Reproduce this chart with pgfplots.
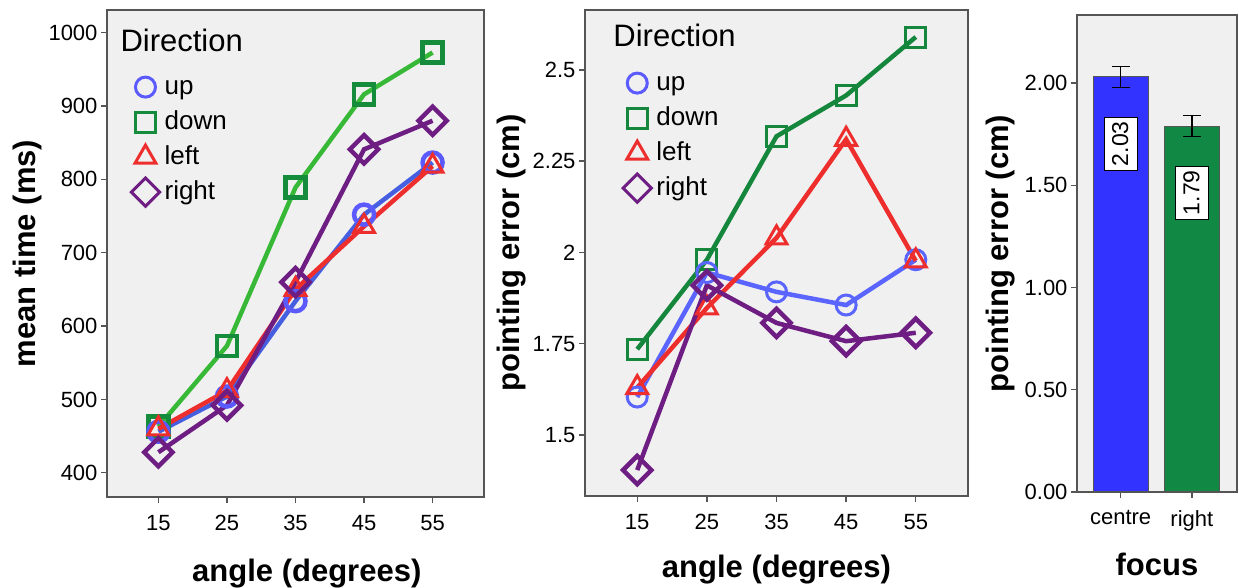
\documentclass[border=0pt]{standalone}
\usepackage{fontspec}
\setmainfont{Liberation Sans}
\usepackage{pgfplots}
\pgfplotsset{compat=1.18}
\definecolor{bg}{RGB}{240,240,240}
\definecolor{axgray}{RGB}{85,85,85}
\definecolor{upL}{RGB}{70,95,225}
\definecolor{upM}{RGB}{90,100,255}
\definecolor{upMk}{RGB}{90,90,255}
\definecolor{downL}{RGB}{55,185,55}
\definecolor{downMk}{RGB}{20,140,60}
\definecolor{downM}{RGB}{20,135,60}
\definecolor{redc}{RGB}{238,45,45}
\definecolor{purp}{RGB}{110,30,130}
\definecolor{barblue}{RGB}{51,51,255}
\definecolor{bargreen}{RGB}{17,136,68}
\pgfplotsset{
  common/.style={
    scale only axis,
    axis background/.style={fill=bg},
    axis line style={draw=axgray, line width=1.4pt},
    tick style={draw=axgray, line width=1.4pt},
    major tick length=6pt,
    tick align=outside,
    xtick pos=bottom, ytick pos=left,
    tick label style={font=\fontsize{22}{26}\selectfont},
    xticklabel style={yshift=-9pt},
    label style={font=\bfseries\fontsize{31}{36}\selectfont},
    /pgf/number format/assume math mode=true,
    /pgf/number format/1000 sep={},
  },
  ln/.style={line width=4.5pt, mark size=10pt, mark options={line width=3pt, solid}},
  lg/.style={
    legend style={draw=none, fill=none, font=\fontsize{26}{30}\selectfont,
      anchor=north west, inner sep=0pt, row sep=0pt, column sep=4pt,
      nodes={inner sep=1pt, text height=24pt, text depth=9pt}},
    legend cell align=left,
    legend image code/.code={\draw[##1] plot[only marks] coordinates {(0pt,0pt)};},
  },
  barlab/.style={
    nodes near coords={\pgfmathprintnumber[fixed,fixed zerofill,precision=2]{\pgfplotspointmeta}},
    nodes near coords style={yshift=-40pt, rotate=90, anchor=east, draw=black, fill=white, line width=0.8pt, inner xsep=4pt, inner ysep=8pt, text height=16pt, text depth=1pt, font=\fontsize{23}{26}\selectfont, text=black},
  },
  ebar/.style={
    error bars/.cd, y dir=both, y explicit,
    error bar style={black, line width=1.3pt},
    error mark options={black, line width=1.3pt, mark size=9pt, rotate=90},
  },
}
\begin{document}
\begin{tikzpicture}
\useasboundingbox (0,0) rectangle (1239pt,588pt);
% ---------- left panel ----------
\begin{axis}[common, lg, at={(107pt,91pt)}, anchor=south west,
  width=377pt, height=487pt,
  xmin=7.5, xmax=62.5, ymin=367, ymax=1031,
  xtick={15,25,35,45,55}, ytick={400,500,600,700,800,900,1000},
  xlabel={angle (degrees)}, ylabel={mean time (ms)},
  xlabel style={at={(axis description cs:0.53,-0.158)}, anchor=center},
  ylabel style={at={(axis description cs:-0.21,0.5)}, anchor=center},
  legend style={at={(axis description cs:0.064,0.878)}},
]
\addlegendimage{only marks, mark=o, mark size=10pt, line width=3pt, color=upMk}
\addlegendentry{up}
\addlegendimage{only marks, mark=square, mark size=10pt, line width=3pt, color=downMk}
\addlegendentry{down}
\addlegendimage{only marks, mark=triangle, mark size=12pt, line width=3pt, color=redc}
\addlegendentry{left}
\addlegendimage{only marks, mark=square, mark size=10pt, mark options={rotate=45}, line width=3pt, color=purp}
\addlegendentry{right}
\addplot[ln, color=downL, mark=square, mark options={draw=downMk}, forget plot] coordinates {(15,463) (25,573) (35,789) (45,916) (55,973)};
\addplot[ln, color=upL, mark=o, mark options={draw=upMk}, forget plot] coordinates {(15,456) (25,504) (35,634) (45,752) (55,823)};
\addplot[ln, color=redc, mark=triangle, mark size=12pt, forget plot] coordinates {(15,460) (25,512) (35,650) (45,736) (55,818)};
\addplot[ln, color=purp, mark=square, mark options={rotate=45}, forget plot] coordinates {(15,428) (25,492) (35,660) (45,841) (55,880)};
\node[anchor=base west, font=\fontsize{31}{36}\selectfont] at (axis description cs:0.0265,0.914) {Direction};
\end{axis}
% ---------- middle panel ----------
\begin{axis}[common, lg, at={(585pt,92pt)}, anchor=south west,
  width=383pt, height=486pt,
  xmin=7.5, xmax=62.5, ymin=1.333, ymax=2.664,
  xtick={15,25,35,45,55}, ytick={1.5,1.75,2,2.25,2.5},
  yticklabels={1.5,1.75,2,2.25,2.5},
  xlabel={angle (degrees)}, ylabel={pointing error (cm)},
  xlabel style={at={(axis description cs:0.5,-0.152)}, anchor=center},
  ylabel style={at={(axis description cs:-0.193,0.5)}, anchor=center},
  legend style={at={(axis description cs:0.099,0.886)}},
]
\addlegendimage{only marks, mark=o, mark size=10pt, line width=3pt, color=upMk}
\addlegendentry{up}
\addlegendimage{only marks, mark=square, mark size=10pt, line width=3pt, color=downM}
\addlegendentry{down}
\addlegendimage{only marks, mark=triangle, mark size=12pt, line width=3pt, color=redc}
\addlegendentry{left}
\addlegendimage{only marks, mark=square, mark size=10pt, mark options={rotate=45}, line width=3pt, color=purp}
\addlegendentry{right}
\addplot[ln, color=downM, mark=square, forget plot] coordinates {(15,1.735) (25,1.98) (35,2.318) (45,2.43) (55,2.59)};
\addplot[ln, color=upM, mark=o, forget plot] coordinates {(15,1.604) (25,1.945) (35,1.892) (45,1.856) (55,1.98)};
\addplot[ln, color=redc, mark=triangle, mark size=12pt, forget plot] coordinates {(15,1.63) (25,1.848) (35,2.04) (45,2.31) (55,1.977)};
\addplot[ln, color=purp, mark=square, mark options={rotate=45}, forget plot] coordinates {(15,1.404) (25,1.91) (35,1.807) (45,1.757) (55,1.78)};
\node[anchor=base west, font=\fontsize{31}{36}\selectfont] at (axis description cs:0.065,0.924) {Direction};
\end{axis}
% ---------- right panel ----------
\begin{axis}[common, at={(1077pt,96pt)}, anchor=south west,
  width=160pt, height=477pt,
  xmin=-0.613, xmax=1.634, ymin=0, ymax=2.333,
  xtick={0,1}, xticklabels={centre,right},
  ytick={0,0.5,1,1.5,2},
  yticklabels={0.00,0.50,1.00,1.50,2.00},
  xlabel={focus}, ylabel={pointing error (cm)},
  xlabel style={at={(axis description cs:0.5,-0.152)}, anchor=center},
  ylabel style={at={(axis description cs:-0.48,0.5)}, anchor=center},
  bar width=55pt,
]
\addplot[ybar, bar shift=0pt, fill=barblue, draw=axgray, line width=1pt, barlab, ebar]
  coordinates {(0,2.03) +- (0,0.05)};
\addplot[ybar, bar shift=0pt, fill=bargreen, draw=axgray, line width=1pt, barlab, ebar]
  coordinates {(1,1.79) +- (0,0.05)};
\end{axis}
\end{tikzpicture}
\end{document}
